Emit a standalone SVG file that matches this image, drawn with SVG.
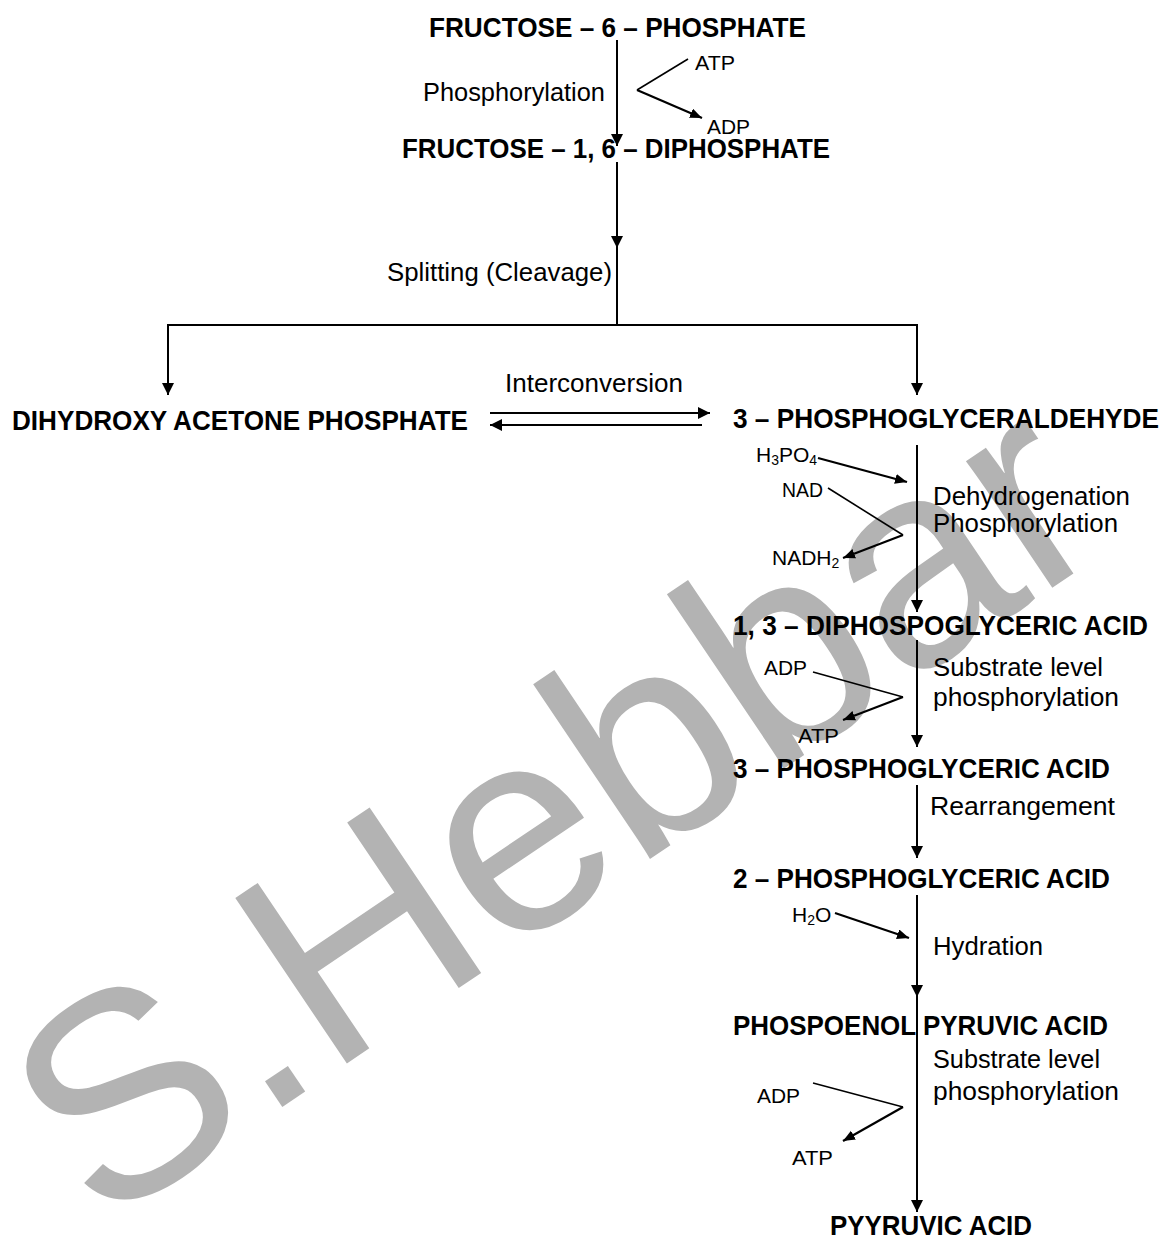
<svg xmlns="http://www.w3.org/2000/svg" width="1166" height="1238" viewBox="0 0 1166 1238">
<style>
.t{font-family:"Liberation Sans",Arial,sans-serif;font-weight:bold;font-size:28px;fill:#000}
.r{font-family:"Liberation Sans",Arial,sans-serif;font-size:26px;fill:#000}
.s{font-family:"Liberation Sans",Arial,sans-serif;font-size:21px;fill:#000}
.m{stroke:#000;stroke-width:2;fill:none}
.a{stroke:#000;stroke-width:2;fill:none;marker-end:url(#ah)}
.n{stroke:#000;stroke-width:1.6;fill:none}
.b{stroke:#000;stroke-width:2.2;fill:none;marker-end:url(#ahs)}
.wm{font-family:"Liberation Sans",Arial,sans-serif;font-size:290px;fill:#b3b3b3}
</style>
<defs>
<marker id="ah" markerUnits="userSpaceOnUse" markerWidth="14" markerHeight="14" refX="12" refY="6" orient="auto">
<path d="M0,0 L12,6 L0,12 z" fill="#000"/>
</marker>
<marker id="ahs" markerUnits="userSpaceOnUse" markerWidth="14" markerHeight="14" refX="12" refY="5" orient="auto">
<path d="M0,0 L12,5 L0,10 z" fill="#000"/>
</marker>
</defs>
<rect width="1166" height="1238" fill="#fff"/>
<g id="watermark">
<text class="wm" transform="translate(100,1230) rotate(-34)">S.Hebbar</text>
</g>
<g id="connectors">
<line class="a" x1="617" y1="40" x2="617" y2="146"/>
<line class="n" x1="637" y1="90" x2="688" y2="59"/>
<line class="b" x1="637" y1="90" x2="702" y2="118"/>
<line class="a" x1="617" y1="162" x2="617" y2="248"/>
<line class="m" x1="617" y1="246" x2="617" y2="325"/>
<polyline class="m" points="168,325 917,325"/>
<line class="a" x1="168" y1="324" x2="168" y2="395"/>
<line class="a" x1="917" y1="324" x2="917" y2="395"/>
<line class="a" x1="490" y1="413" x2="710" y2="413"/>
<line class="a" x1="702" y1="425" x2="490" y2="425"/>
<line class="a" x1="917" y1="445" x2="917" y2="612"/>
<line class="b" x1="818" y1="458" x2="907" y2="482"/>
<line class="n" x1="828" y1="488" x2="903" y2="535"/>
<line class="b" x1="903" y1="535" x2="843" y2="558"/>
<line class="a" x1="917" y1="640" x2="917" y2="747"/>
<line class="n" x1="813" y1="672" x2="903" y2="697"/>
<line class="b" x1="903" y1="697" x2="843" y2="720"/>
<line class="a" x1="917" y1="785" x2="917" y2="858"/>
<line class="a" x1="917" y1="895" x2="917" y2="997"/>
<line class="m" x1="917" y1="995" x2="917" y2="1040"/>
<line class="b" x1="835" y1="913" x2="909" y2="938"/>
<line class="a" x1="917" y1="1038" x2="917" y2="1212"/>
<line class="n" x1="813" y1="1083" x2="903" y2="1107"/>
<line class="b" x1="903" y1="1107" x2="843" y2="1141"/>
</g>
<g id="f6p"><text class="t" x="429" y="37" textLength="377" lengthAdjust="spacingAndGlyphs">FRUCTOSE – 6 – PHOSPHATE</text></g>
<g id="step1-label"><text class="r" x="423" y="101" textLength="182" lengthAdjust="spacingAndGlyphs">Phosphorylation</text>
<text class="s" x="695" y="70" textLength="40" lengthAdjust="spacingAndGlyphs">ATP</text>
<text class="s" x="707" y="134" textLength="43" lengthAdjust="spacingAndGlyphs">ADP</text></g>
<g id="f16dp"><text class="t" x="402" y="158" textLength="428" lengthAdjust="spacingAndGlyphs">FRUCTOSE – 1, 6 – DIPHOSPHATE</text></g>
<g id="split-label"><text class="r" x="387" y="281" textLength="225" lengthAdjust="spacingAndGlyphs">Splitting (Cleavage)</text></g>
<g id="dhap"><text class="t" x="12" y="430" textLength="456" lengthAdjust="spacingAndGlyphs">DIHYDROXY ACETONE PHOSPHATE</text></g>
<g id="inter-label"><text class="r" x="505" y="392" textLength="178" lengthAdjust="spacingAndGlyphs">Interconversion</text></g>
<g id="g3p"><text class="t" x="733" y="428" textLength="426" lengthAdjust="spacingAndGlyphs">3 – PHOSPHOGLYCERALDEHYDE</text></g>
<g id="step-dehyd">
<text class="s" x="756" y="462">H<tspan font-size="14" dy="3">3</tspan><tspan dy="-3">PO</tspan><tspan font-size="14" dy="3">4</tspan></text>
<text class="s" x="782" y="497" textLength="41" lengthAdjust="spacingAndGlyphs">NAD</text>
<text class="s" x="772" y="565">NADH<tspan font-size="14" dy="3">2</tspan></text>
<text class="r" x="933" y="505" textLength="197" lengthAdjust="spacingAndGlyphs">Dehydrogenation</text>
<text class="r" x="933" y="532" textLength="185" lengthAdjust="spacingAndGlyphs">Phosphorylation</text>
</g>
<g id="dpga"><text class="t" x="733" y="635" textLength="415" lengthAdjust="spacingAndGlyphs">1, 3 – DIPHOSPOGLYCERIC ACID</text></g>
<g id="step-slp1">
<text class="r" x="933" y="676" textLength="170" lengthAdjust="spacingAndGlyphs">Substrate level</text>
<text class="r" x="933" y="706" textLength="186" lengthAdjust="spacingAndGlyphs">phosphorylation</text>
<text class="s" x="764" y="675" textLength="43" lengthAdjust="spacingAndGlyphs">ADP</text>
<text class="s" x="798" y="743" textLength="41" lengthAdjust="spacingAndGlyphs">ATP</text>
</g>
<g id="pga3"><text class="t" x="733" y="778" textLength="377" lengthAdjust="spacingAndGlyphs">3 – PHOSPHOGLYCERIC ACID</text></g>
<g id="step-rearr"><text class="r" x="930" y="815" textLength="185" lengthAdjust="spacingAndGlyphs">Rearrangement</text></g>
<g id="pga2"><text class="t" x="733" y="888" textLength="377" lengthAdjust="spacingAndGlyphs">2 – PHOSPHOGLYCERIC ACID</text></g>
<g id="step-hyd">
<text class="s" x="792" y="922">H<tspan font-size="14" dy="3">2</tspan><tspan dy="-3">O</tspan></text>
<text class="r" x="933" y="955" textLength="110" lengthAdjust="spacingAndGlyphs">Hydration</text>
</g>
<g id="pep"><text class="t" x="733" y="1035" textLength="375" lengthAdjust="spacingAndGlyphs">PHOSPOENOL PYRUVIC ACID</text></g>
<g id="step-slp2">
<text class="r" x="933" y="1068" textLength="167" lengthAdjust="spacingAndGlyphs">Substrate level</text>
<text class="r" x="933" y="1100" textLength="186" lengthAdjust="spacingAndGlyphs">phosphorylation</text>
<text class="s" x="757" y="1103" textLength="43" lengthAdjust="spacingAndGlyphs">ADP</text>
<text class="s" x="792" y="1165" textLength="41" lengthAdjust="spacingAndGlyphs">ATP</text>
</g>
<g id="pyruvate"><text class="t" x="830" y="1235" textLength="202" lengthAdjust="spacingAndGlyphs">PYYRUVIC ACID</text></g>
</svg>
